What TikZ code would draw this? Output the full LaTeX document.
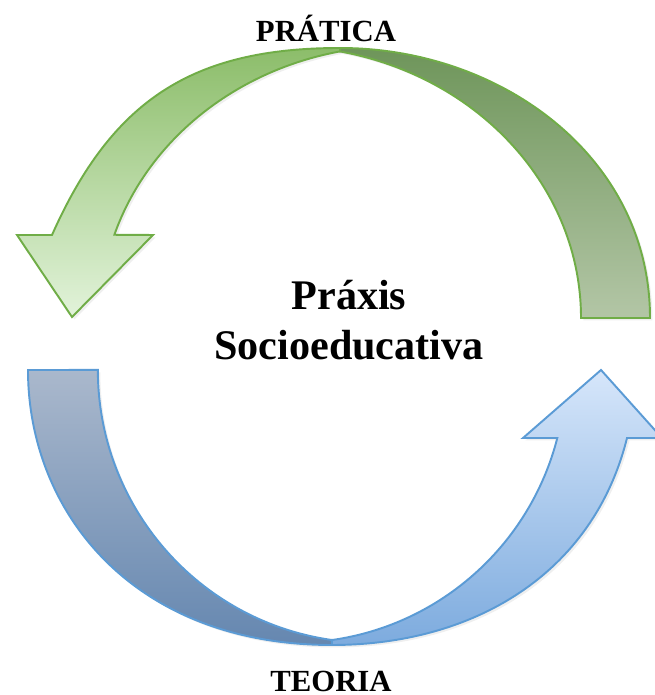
\documentclass[tikz,border=0pt]{standalone}
\usepackage{fontspec}
\setmainfont{Liberation Serif}
\usetikzlibrary{shadows}

\definecolor{greenline}{HTML}{70AD47}
\definecolor{gfronttop}{HTML}{8CBD6A}
\definecolor{gfrontbot}{HTML}{E2F3DA}
\definecolor{gbacktop}{HTML}{6E955A}
\definecolor{gbackbot}{HTML}{B3C6A6}
\definecolor{blueline}{HTML}{5B9BD5}
\definecolor{bfronttop}{HTML}{D6E6FA}
\definecolor{bfrontbot}{HTML}{7DABDE}
\definecolor{bbacktop}{HTML}{AAB8CC}
\definecolor{bbackbot}{HTML}{6587B0}

\tikzset{
  arrowpart/.style={line width=1.1pt, line join=miter,
    drop shadow={opacity=0.13, shadow xshift=1.4pt, shadow yshift=-1.4pt}},
  label/.style={font=\bfseries\fontsize{17.5}{20}\selectfont, anchor=base, inner sep=0pt},
}

\begin{document}
\begin{tikzpicture}[x=0.02cm, y=0.02cm]
    \useasboundingbox (0,0) rectangle (654,695);

    % green arrow (top)
    \coordinate (g-tail-out) at (650,377);
    \coordinate (g-tail-in) at (581,377);
    \coordinate (g-top) at (340,647);
    \coordinate (g-apex) at (340.2,643.6);
    \coordinate (g-shaft-out) at (52,460);
    \coordinate (g-barb-out) at (17,460);
    \coordinate (g-barb-in) at (153,460);
    \coordinate (g-tip) at (72,378);

    \shadedraw[arrowpart, draw=greenline, top color=gbacktop, bottom color=gbackbot]
      (g-top) to[out=0, in=90] (g-tail-out) -- (g-tail-in)
      arc[start angle=0, end angle=78.5, x radius=301, y radius=272] -- cycle;
    \shadedraw[arrowpart, draw=greenline, top color=gfronttop, bottom color=gfrontbot]
      (g-shaft-out) to[out=66, in=180, looseness=1.1] (g-top) -- (g-apex)
      arc[start angle=101.5, end angle=162.2, x radius=300, y radius=272]
      -- (g-barb-in) -- (g-tip) -- (g-barb-out) -- cycle;

    % blue arrow (bottom)
    \coordinate (b-tail-out) at (28,325);
    \coordinate (b-tail-in) at (98,325);
    \coordinate (b-bot) at (332,50);
    \coordinate (b-apex) at (332,55);
    \coordinate (b-shaft-in) at (557.3,257);
    \coordinate (b-shaft-out) at (627,257);
    \coordinate (b-barb-in) at (523,257);
    \coordinate (b-barb-out) at (662,257);
    \coordinate (b-tip) at (601,325);

    \shadedraw[arrowpart, draw=blueline, top color=bbacktop, bottom color=bbackbot]
      (b-tail-out) to[out=-90, in=180, out looseness=0.875, in looseness=1.25] (b-bot) -- (b-apex)
      arc[start angle=262, end angle=180, x radius=272, y radius=272.7] -- cycle;
    \shadedraw[arrowpart, draw=blueline, top color=bfronttop, bottom color=bfrontbot]
      (b-bot) to[out=0, in=-104] (b-shaft-out) -- (b-barb-out) -- (b-tip)
      -- (b-barb-in) -- (b-shaft-in)
      arc[start angle=-14.44, end angle=-81.97, x radius=272, y radius=272.7] -- cycle;

    \node[label] (pratica) at (326,653) {PRÁTICA};
    \node[label] (teoria) at (331,3.5) {TEORIA};
    \node[font=\bfseries\fontsize{24}{28.5}\selectfont, align=center, anchor=base]
      (praxis) at (349,335) {Práxis\\Socioeducativa};
\end{tikzpicture}
\end{document}
